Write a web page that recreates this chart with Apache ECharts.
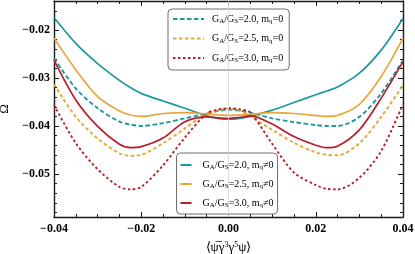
<!DOCTYPE html>
<html><head><meta charset="utf-8">
<script src="https://cdn.jsdelivr.net/npm/echarts@6/dist/echarts.min.js"></script>
<style>html,body{margin:0;padding:0;background:#fff}#c{width:415px;height:254px}</style>
</head><body><div id="c"></div>
<script>
// ---- data ----
const xVals = [-0.04,-0.035,-0.03,-0.025,-0.0225,-0.02,-0.015,-0.01,-0.005,-0.0025,0,0.0025,0.005,0.01,0.015,0.02,0.0225,0.025,0.03,0.035,0.04];
// mq = 0 (dashed)
const omegaDash20 = [-0.0259,-0.0322,-0.0363,-0.0391,-0.0397,-0.0400,-0.0394,-0.0384,-0.0374,-0.0369,-0.0366,-0.0368,-0.0372,-0.0384,-0.0392,-0.0398,-0.0400,-0.0400,-0.0381,-0.0332,-0.0263];
const omegaDash25 = [-0.0313,-0.0381,-0.0426,-0.0457,-0.0462,-0.0460,-0.0436,-0.0405,-0.0374,-0.0367,-0.0364,-0.0368,-0.0380,-0.0408,-0.0435,-0.0455,-0.0460,-0.0461,-0.0436,-0.0381,-0.0315];
const omegaDash30 = [-0.0356,-0.0436,-0.0490,-0.0527,-0.0532,-0.0527,-0.0482,-0.0424,-0.0374,-0.0366,-0.0363,-0.0365,-0.0372,-0.0437,-0.0497,-0.0523,-0.0531,-0.0532,-0.0508,-0.0452,-0.0354];
// mq != 0 (solid)
const omegaSolid20 = [-0.0174,-0.0228,-0.0270,-0.0305,-0.0320,-0.0332,-0.0348,-0.0363,-0.0379,-0.0384,-0.0386,-0.0384,-0.0380,-0.0367,-0.0351,-0.0335,-0.0327,-0.0319,-0.0290,-0.0242,-0.0176];
const omegaSolid25 = [-0.0217,-0.0283,-0.0339,-0.0369,-0.0377,-0.0380,-0.0374,-0.0372,-0.0375,-0.0377,-0.0378,-0.0377,-0.0376,-0.0372,-0.0374,-0.0378,-0.0380,-0.0378,-0.0355,-0.0297,-0.0217];
const omegaSolid30 = [-0.0263,-0.0346,-0.0401,-0.0438,-0.0445,-0.0443,-0.0425,-0.0391,-0.0381,-0.0383,-0.0384,-0.0382,-0.0379,-0.0396,-0.0422,-0.0440,-0.0445,-0.0442,-0.0408,-0.0342,-0.0266];
const xTickLabels = [-0.04,-0.02,0,0.02,0.04];
const yTickLabels = [-0.05,-0.04,-0.03,-0.02];
const legendDashed = ['G{s|A}/G{s|S}=2.0, m{s|q}=0','G{s|A}/G{s|S}=2.5, m{s|q}=0','G{s|A}/G{s|S}=3.0, m{s|q}=0'];
const legendSolid = ['G{s|A}/G{s|S}=2.0, m{s|q}≠0','G{s|A}/G{s|S}=2.5, m{s|q}≠0','G{s|A}/G{s|S}=3.0, m{s|q}≠0'];
const xTitle = '⟨ψ̅γ{p|3}γ{p|5}ψ⟩';
const yTitle = 'Ω';

const TEAL='#1c989f', ORANGE='#e9a53a', RED='#b61f2a';
const FONT='Liberation Serif';
const X_MIN=-0.04, X_MAX=0.04, Y_MIN=-0.05896, Y_MAX=-0.01396;

function minorVals(a,b,step,majors){
  const out=[]; const n=Math.round((b-a)/step);
  for(let i=0;i<=n;i++){const v=+(a+i*step).toFixed(6); if(!majors.some(m=>Math.abs(m-v)<1e-9)) out.push(v);}
  return out;
}
const xMinor = minorVals(-0.04,0.04,0.005,xTickLabels);
const yMinor = minorVals(-0.058,-0.014,0.002,yTickLabels);
const fmt = v => (v<0?'−':'')+Math.abs(v).toFixed(2);

const lineCol='#1a1a1a';
function xAx(pos, vals, len, withLine, withLabel){
  return {type:'value', min:X_MIN, max:X_MAX, position:pos,
    axisLine:{show:withLine, onZero:false, lineStyle:{color:lineCol,width:1.4}},
    axisTick:{show:true, inside:true, length:len, customValues:vals, lineStyle:{color:lineCol,width:1}},
    axisLabel:withLabel?{show:true, customValues:vals, formatter:fmt, fontFamily:FONT, fontWeight:'bold', fontSize:12, color:'#000', margin:6}:{show:false},
    splitLine:{show:false},
    name: withLabel? xTitle:'', nameLocation:'middle', nameGap:24,
    nameTextStyle:{fontFamily:FONT, fontSize:13, color:'#000', rich:{p:{fontSize:8, verticalAlign:'top', padding:[0,0,6,0], fontFamily:FONT, color:'#000'}}}
  };
}
function yAx(pos, vals, len, withLine, withLabel){
  return {type:'value', min:Y_MIN, max:Y_MAX, position:pos,
    axisLine:{show:withLine, onZero:false, lineStyle:{color:lineCol,width:1.4}},
    axisTick:{show:true, inside:true, length:len, customValues:vals, lineStyle:{color:lineCol,width:1}},
    axisLabel:withLabel?{show:true, customValues:vals, formatter:fmt, fontFamily:FONT, fontWeight:'bold', fontSize:12, color:'#000', margin:4}:{show:false},
    splitLine:{show:false},
    name: withLabel? yTitle:'', nameLocation:'middle', nameGap:35,
    nameTextStyle:{fontFamily:FONT, fontSize:13, color:'#000'}
  };
}

const names = ['d20','d25','d30','s20','s25','s30'];
const labelMap = {d20:legendDashed[0],d25:legendDashed[1],d30:legendDashed[2],s20:legendSolid[0],s25:legendSolid[1],s30:legendSolid[2]};
const dataSets = {d20:omegaDash20,d25:omegaDash25,d30:omegaDash30,s20:omegaSolid20,s25:omegaSolid25,s30:omegaSolid30};
const colors = {d20:TEAL,d25:ORANGE,d30:RED,s20:TEAL,s25:ORANGE,s30:RED};
const dashes = {d20:[4.5,2.5],d25:[3.5,2.5],d30:[2.5,2.5]};

const series = [{
  type:'line', name:'grid0', data:[], silent:true, z:1,
  markLine:{silent:true, symbol:['none','none'], label:{show:false}, animation:false,
    lineStyle:{color:'#d4d4d4', width:0.8, type:'solid'}, data:[{xAxis:0}]}
}];
names.forEach(n=>{
  series.push({type:'line', name:n, z:3, smooth:0.3, symbol:'none', showSymbol:false,
    data:xVals.map((x,i)=>[x,dataSets[n][i]]),
    lineStyle:{color:colors[n], width: n[0]==='d'?1.9:1.7, type: n[0]==='d'?dashes[n]:'solid'},
    itemStyle:{color:colors[n]}
  });
});

const legendText = {fontFamily:FONT, fontSize:10, color:'#000', lineHeight:12,
  rich:{s:{fontSize:7, fontFamily:FONT, color:'#000', verticalAlign:'bottom', lineHeight:12, padding:[3,0,0,0]}}};

const chart = echarts.init(document.getElementById('c'), null, {renderer:'canvas'});
chart.setOption({
  animation:false,
  backgroundColor:'#fff',
  grid:{left:54, right:12, top:1, bottom:37, containLabel:false, outerBoundsMode:'none'},
  xAxis:[ xAx('bottom', xTickLabels, 5, true, true), xAx('bottom', xMinor, 3, false, false),
          xAx('top', xTickLabels, 5, true, false), xAx('top', xMinor, 3, false, false) ],
  yAxis:[ yAx('left', yTickLabels, 5, true, true), yAx('left', yMinor, 3, false, false),
          yAx('right', yTickLabels, 5, true, false), yAx('right', yMinor, 3, false, false) ],
  legend:[
    {data:['d20','d25','d30'], orient:'vertical', left:168, top:9, itemWidth:31, itemHeight:10, itemGap:7.5,
     padding:[4,6,6,4], borderColor:'#6e6e6e', borderWidth:1, borderRadius:4, backgroundColor:'#fff',
     itemStyle:{opacity:0, borderWidth:0},
     formatter:n=>labelMap[n], textStyle:Object.assign({padding:[0,0,0,3]},legendText), selectedMode:false},
    {data:['s20','s25','s30'], orient:'vertical', left:176.5, top:153, itemWidth:11, itemHeight:10, itemGap:7,
     padding:[6,4,5,3], borderColor:'#6e6e6e', borderWidth:1, borderRadius:4, backgroundColor:'#fff',
     itemStyle:{opacity:0, borderWidth:0},
     formatter:n=>labelMap[n], textStyle:Object.assign({padding:[0,0,0,6]},legendText), selectedMode:false}
  ],
  series: series
});
</script></body></html>
